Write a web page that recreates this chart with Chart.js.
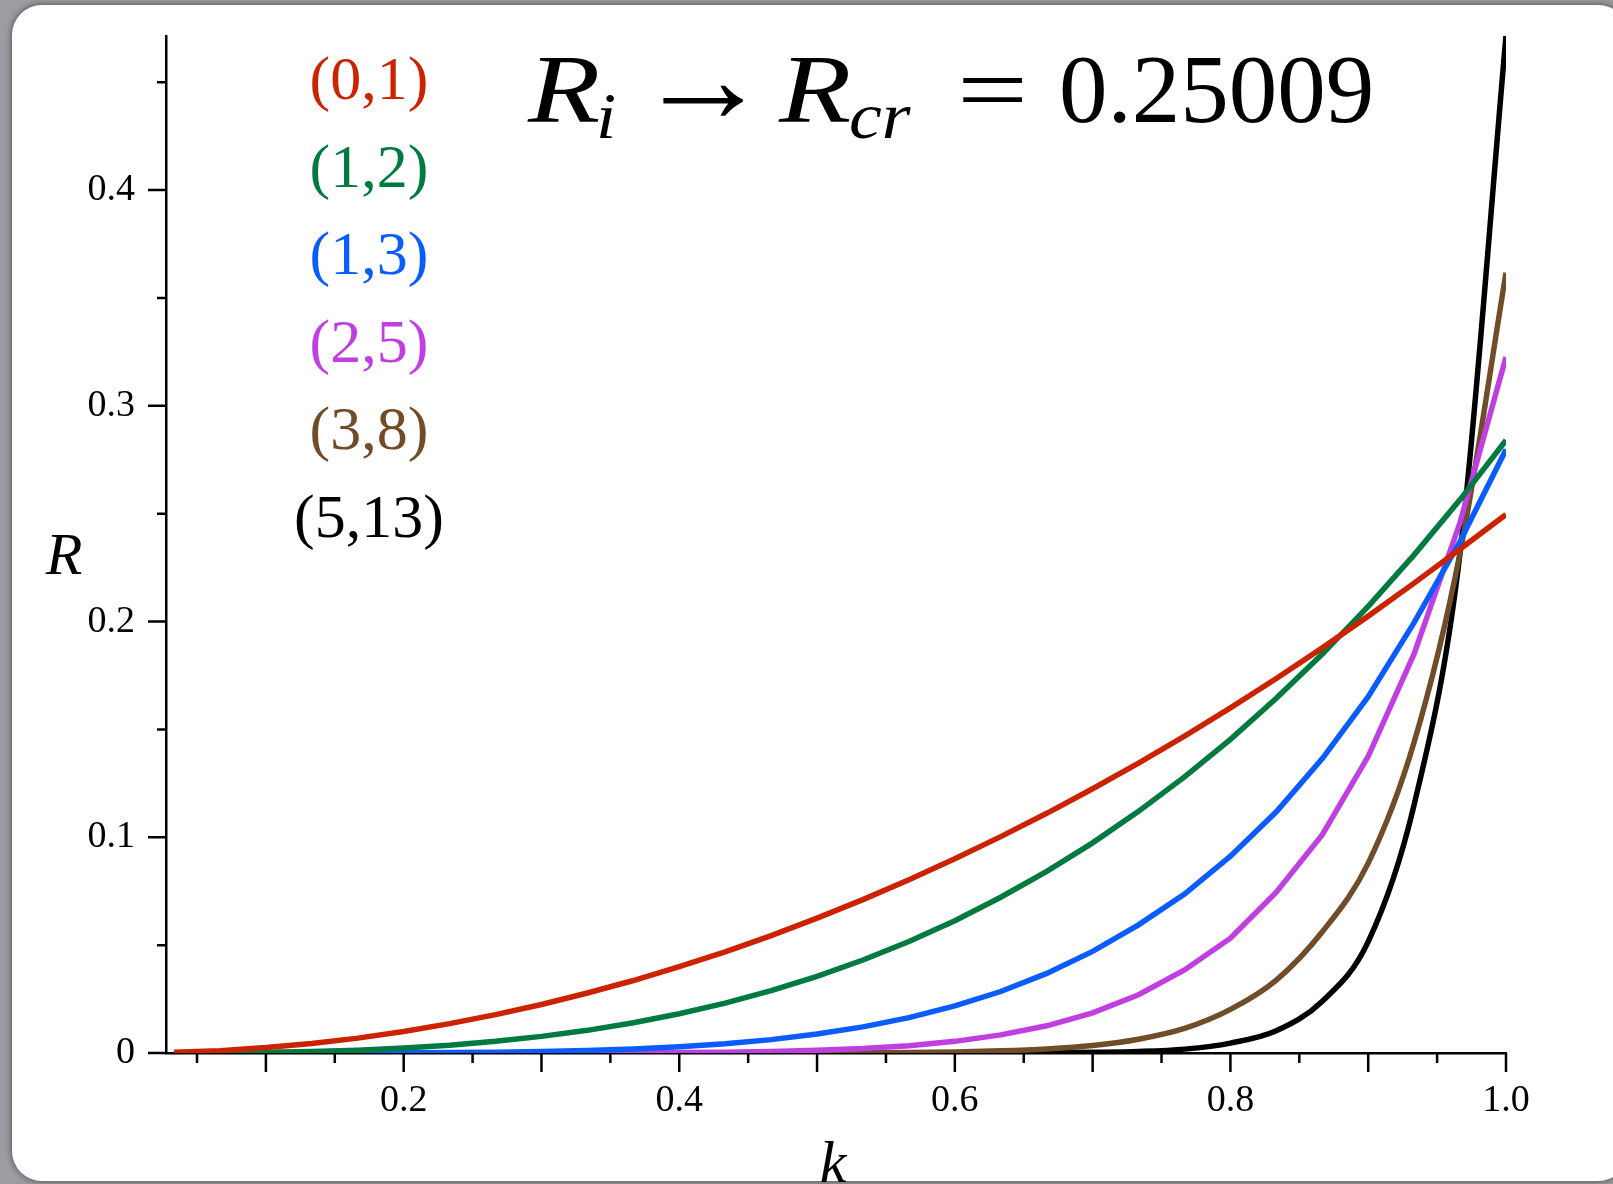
<!DOCTYPE html>
<html>
<head>
<meta charset="utf-8">
<title>R versus k</title>
<script src="https://cdn.jsdelivr.net/npm/chart.js@4.4.1/dist/chart.umd.min.js"></script>
<style>
  html, body { margin: 0; padding: 0; }
  body { width: 1613px; height: 1184px; overflow: hidden; background: #9d9da1; position: relative; }
  #card { position: absolute; left: 12px; top: 5px; width: 1616px; height: 1176px; background: #fff;
          border-radius: 30px; box-shadow: 0 0 7px rgba(0,0,0,0.55); }
  #wrap { position: absolute; left: 0; top: 0; width: 1613px; height: 1184px; }
</style>
</head>
<body>
<div id="card"></div>
<div id="wrap"><canvas id="rChart"></canvas></div>
<script>
/* Data */
const kValues = [0.0333, 0.0667, 0.1, 0.1333, 0.1667, 0.2, 0.2333, 0.2667, 0.3, 0.3333,
                 0.3667, 0.4, 0.4333, 0.4667, 0.5, 0.5333, 0.5667, 0.6, 0.6333, 0.6667,
                 0.7, 0.7333, 0.7667, 0.8, 0.8333, 0.8667, 0.9, 0.9333, 0.9667, 1.0];

const r01 = [0.0003, 0.0011, 0.0025, 0.0044, 0.0069, 0.0100, 0.0136, 0.0178, 0.0225, 0.0278,
             0.0336, 0.0400, 0.0469, 0.0544, 0.0625, 0.0711, 0.0803, 0.0900, 0.1003, 0.1111,
             0.1225, 0.1344, 0.1469, 0.1600, 0.1736, 0.1878, 0.2025, 0.2178, 0.2336, 0.2496];
const r12 = [0.0000, 0.0001, 0.0003, 0.0007, 0.0013, 0.0023, 0.0036, 0.0054, 0.0077, 0.0105,
             0.0140, 0.0182, 0.0231, 0.0289, 0.0355, 0.0431, 0.0517, 0.0613, 0.0722, 0.0842,
             0.0974, 0.1120, 0.1280, 0.1454, 0.1644, 0.1849, 0.2070, 0.2309, 0.2565, 0.2840];
const r13 = [0.0000, 0.0000, 0.0000, 0.0000, 0.0000, 0.0001, 0.0002, 0.0004, 0.0007, 0.0012,
             0.0019, 0.0029, 0.0043, 0.0062, 0.0088, 0.0121, 0.0164, 0.0218, 0.0285, 0.0369,
             0.0471, 0.0594, 0.0737, 0.0912, 0.1118, 0.1365, 0.1652, 0.1995, 0.2372, 0.2797];
const r25 = [0.0000, 0.0000, 0.0000, 0.0000, 0.0000, 0.0000, 0.0000, 0.0000, 0.0000, 0.0001,
             0.0001, 0.0002, 0.0004, 0.0007, 0.0013, 0.0021, 0.0034, 0.0054, 0.0084, 0.0126,
             0.0186, 0.0270, 0.0385, 0.0532, 0.0745, 0.1012, 0.1375, 0.1850, 0.2460, 0.3226];
const r38 = [0.0000, 0.0000, 0.0000, 0.0000, 0.0000, 0.0000, 0.0000, 0.0000, 0.0000, 0.0000,
             0.0000, 0.0000, 0.0000, 0.0000, 0.0000, 0.0001, 0.0002, 0.0005, 0.0010, 0.0019,
             0.0035, 0.0064, 0.0114, 0.0202, 0.0338, 0.0562, 0.0880, 0.1440, 0.2320, 0.3617];
const r513 = [0.0000, 0.0000, 0.0000, 0.0000, 0.0000, 0.0000, 0.0000, 0.0000, 0.0000, 0.0000,
              0.0000, 0.0000, 0.0000, 0.0000, 0.0000, 0.0000, 0.0000, 0.0000, 0.0000, 0.0001,
              0.0003, 0.0007, 0.0018, 0.0046, 0.0103, 0.0240, 0.0516, 0.1150, 0.2320, 0.4715];

const seriesLabels = ['(0,1)', '(1,2)', '(1,3)', '(2,5)', '(3,8)', '(5,13)'];
const seriesColors = ['#cc2200', '#007a3e', '#0a5cff', '#bf3fe0', '#704d28', '#000000'];
const seriesValues = [r01, r12, r13, r25, r38, r513];

// axis ticks
const xLabelValues = [0.2, 0.4, 0.6, 0.8, 1.0];
const xTickMarks = [0.05, 0.1, 0.15, 0.2, 0.25, 0.3, 0.35, 0.4, 0.45, 0.5,
                    0.55, 0.6, 0.65, 0.7, 0.75, 0.8, 0.85, 0.9, 0.95, 1.0];
const yLabelValues = [0, 0.1, 0.2, 0.3, 0.4];
const yTickMarks = [0, 0.05, 0.1, 0.15, 0.2, 0.25, 0.3, 0.35, 0.4, 0.45];

const serif = '"Liberation Serif", "DejaVu Serif", serif';

// build datasets
const datasets = seriesValues.map((vals, i) => ({
  label: seriesLabels[i],
  data: kValues.map((k, j) => ({ x: k, y: vals[j] })),
  borderColor: seriesColors[i],
  backgroundColor: seriesColors[i],
  borderWidth: 5.5,
  pointRadius: 0,
  fill: false,
  cubicInterpolationMode: i >= 4 ? 'monotone' : 'default',
  tension: 0
}));

// draw a piece of text, optionally stretched sideways
function putText(ctx, txt, font, x, y, sx) {
  ctx.save();
  ctx.font = font;
  ctx.translate(x, y);
  ctx.scale(sx || 1, 1);
  ctx.fillText(txt, 0, 0);
  ctx.restore();
}

// tick marks of two lengths, legend text, title and axis names
const decorPlugin = {
  id: 'decor',
  afterDraw(chart) {
    const ctx = chart.ctx;
    const a = chart.chartArea;
    const xs = chart.scales.x, ys = chart.scales.y;
    ctx.save();

    // tick marks
    ctx.strokeStyle = '#000';
    ctx.lineWidth = 2.5;
    ctx.beginPath();
    xTickMarks.forEach(v => {
      const px = xs.getPixelForValue(v);
      const major = Math.abs(v * 10 - Math.round(v * 10)) < 1e-6;
      ctx.moveTo(px, a.bottom);
      ctx.lineTo(px, a.bottom + (major ? 19 : 10));
    });
    yTickMarks.forEach(v => {
      const py = ys.getPixelForValue(v);
      const major = Math.abs(v * 10 - Math.round(v * 10)) < 1e-6;
      ctx.moveTo(a.left, py);
      ctx.lineTo(a.left - (major ? 18 : 9), py);
    });
    ctx.stroke();

    // legend as coloured text
    ctx.textAlign = 'center';
    ctx.textBaseline = 'middle';
    ctx.font = '62px ' + serif;
    chart.data.datasets.forEach((ds, i) => {
      ctx.fillStyle = ds.borderColor;
      ctx.fillText(ds.label, a.left + 203, a.top + 47 + i * 87.5);
    });

    // axis names
    ctx.fillStyle = '#000';
    ctx.font = 'italic 60px ' + serif;
    ctx.fillText('R', a.left - 102, (a.top + a.bottom) / 2 + 14);
    ctx.font = 'italic 60px ' + serif;
    ctx.fillText('k', (a.left + a.right) / 2 - 3, a.bottom + 113);

    // title  R_i -> R_cr = 0.25009
    ctx.textAlign = 'left';
    ctx.textBaseline = 'alphabetic';
    const base = a.top + 86;
    putText(ctx, 'R', 'italic 97px ' + serif, a.left + 362, base, 1.22);
    putText(ctx, 'i', 'italic 66px ' + serif, a.left + 430, base + 16, 1.1);
    putText(ctx, '\u2192', '128px ' + serif, a.left + 470, base, 1.05);
    putText(ctx, 'R', 'italic 97px ' + serif, a.left + 613, base, 1.22);
    putText(ctx, 'cr', 'italic 66px ' + serif, a.left + 683, base + 16, 1.12);
    putText(ctx, '=', '97px ' + serif, a.left + 791, base, 1.3);
    putText(ctx, '0.25009', '97px ' + serif, a.left + 893, base, 1.0);
    ctx.restore();
  }
};

const ctxR = document.getElementById('rChart').getContext('2d');

const rChart = new Chart(ctxR, {
  type: 'line',
  data: { datasets: datasets },
  options: {
    responsive: true,
    maintainAspectRatio: false,
    animation: false,
    layout: { padding: { top: 35, right: 107, left: 0, bottom: 0 } },
    plugins: {
      legend: { display: false },
      tooltip: { enabled: false }
    },
    scales: {
      x: {
        type: 'linear',
        position: 'bottom',
        min: 0.0275,
        max: 1.0,
        afterBuildTicks: (axis) => { axis.ticks = xLabelValues.map(v => ({ value: v })); },
        afterFit: (axis) => { axis.height = 131; },
        ticks: {
          autoSkip: false,
          maxRotation: 0,
          padding: 6,
          color: '#000',
          font: { family: serif, size: 38 },
          callback: (v) => Number(v).toFixed(1)
        },
        grid: { display: true, drawOnChartArea: false, drawTicks: true, tickLength: 19, tickColor: 'rgba(0,0,0,0)' },
        border: { display: true, color: '#000', width: 2.5 }
      },
      y: {
        type: 'linear',
        position: 'left',
        min: 0,
        max: 0.4715,
        afterBuildTicks: (axis) => { axis.ticks = yLabelValues.map(v => ({ value: v })); },
        afterFit: (axis) => { axis.width = 166; },
        ticks: {
          autoSkip: false,
          padding: 13,
          color: '#000',
          font: { family: serif, size: 38 },
          callback: (v) => (v === 0 ? '0' : Number(v).toFixed(1))
        },
        grid: { display: true, drawOnChartArea: false, drawTicks: true, tickLength: 18, tickColor: 'rgba(0,0,0,0)' },
        border: { display: true, color: '#000', width: 2.5 }
      }
    }
  },
  plugins: [decorPlugin]
});
</script>
</body>
</html>
